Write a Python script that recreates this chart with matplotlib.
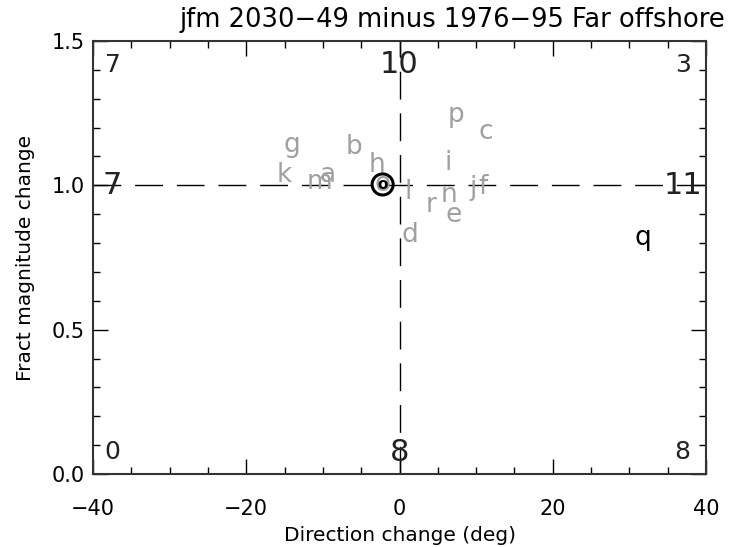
import matplotlib
matplotlib.use("Agg")
from matplotlib import pyplot as plt

# model letters and their (direction change, fractional magnitude change)
letters = ["a", "b", "c", "d", "e", "f", "g", "h", "i", "j",
           "k", "l", "m", "n", "o", "p", "q", "r"]
dir_change = [-9.4, -5.9, 11.3, 1.3, 7.0, 10.9, -14.1, -3.0, 6.3, 9.6,
              -15.1, 1.1, -10.4, 6.5, -2.2, 7.4, 31.8, 4.1]
mag_change = [1.036, 1.133, 1.186, 0.828, 0.897, 0.995, 1.14, 1.07, 1.077, 0.99,
              1.036, 0.978, 1.013, 0.967, 1.003, 1.244, 0.818, 0.932]
highlight = "q"
mean_model = "o"

# counts per region: rows top/middle/bottom, cols left/centre/right
counts_top = ["7", "10", "3"]
counts_mid = ["7", "", "11"]
counts_bot = ["0", "8", "8"]

x_ticks = [-40, -20, 0, 20, 40]
y_ticks = [0.0, 0.5, 1.0, 1.5]

plt.rcParams['font.family'] = ['DejaVu Sans']
fig = plt.figure(figsize=(7.31, 5.47), dpi=100)
ax = fig.add_axes([93 / 731, 73 / 547, 613 / 731, 433 / 547])

ax.set_xlim(-40, 40)
ax.set_ylim(0.0, 1.5)

# reference lines
ax.axvline(0, color="black", lw=1.0, dashes=(20, 10), zorder=1)
ax.axhline(1.0, color="black", lw=1.0, dashes=(20, 10), zorder=1)

for lab, x, y in zip(letters, dir_change, mag_change):
    col = "black" if lab == highlight else "#a0a0a0"
    ax.text(x, y, lab, color=col, fontsize=19, ha="center", va="center", zorder=3)
    if lab == mean_model:
        ax.text(x, y, lab, color="black", fontsize=11, ha="center", va="center",
                fontweight="bold", zorder=4)
        ax.scatter([x], [y], s=230, facecolors="none", edgecolors="black",
                   linewidths=2.2, zorder=4)

# region counts
xpos = [0.032, 0.5, 0.962]
big = {(0, 1), (1, 0), (1, 2), (2, 1)}
rows = [(counts_top, 0.945), (counts_mid, 1.0 / 1.5), (counts_bot, 0.05)]
for r, (row, yf) in enumerate(rows):
    for c, txt in enumerate(row):
        if not txt:
            continue
        fs = 22 if (r, c) in big else 18
        ax.text(xpos[c], yf, txt, transform=ax.transAxes, fontsize=fs,
                ha="center", va="center", color="#222222", zorder=2)

ax.set_xticks(x_ticks)
ax.set_xticks(range(-40, 41, 5), minor=True)
ax.set_yticks(y_ticks)
ax.set_yticklabels(["%.1f" % v for v in y_ticks])
ax.set_yticks([v / 10 for v in range(16)], minor=True)
ax.tick_params(which="both", direction="in", top=True, right=True,
               labelsize=15, colors="black")
ax.tick_params(which="major", length=11, width=1)
ax.tick_params(which="minor", length=5, width=1)
ax.tick_params(axis="x", pad=18)
ax.tick_params(axis="y", pad=6)
for sp in ax.spines.values():
    sp.set_linewidth(1.5)
    sp.set_color("#333333")

ax.set_xlabel("Direction change (deg)", fontsize=14.5, labelpad=5)
ax.set_ylabel("Fract magnitude change", fontsize=14.5, labelpad=12)
fig.text(452 / 731, 1 - 20 / 547, "jfm 2030\u221249 minus 1976\u221295 Far offshore",
         fontsize=18.5, ha="center", va="center")

fig.savefig("out.png", dpi=100)
